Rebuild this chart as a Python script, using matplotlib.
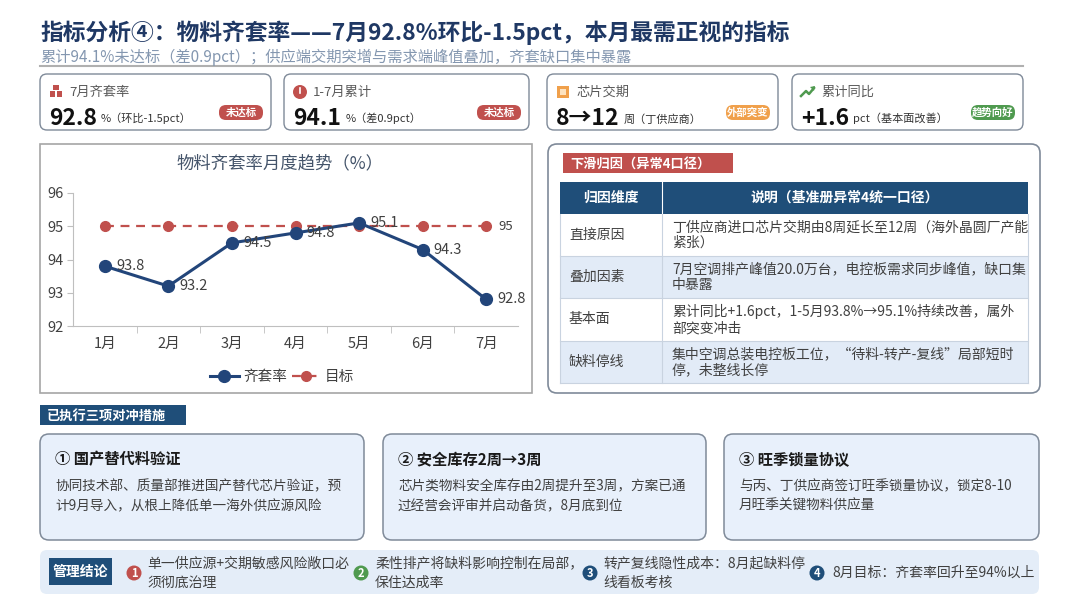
import matplotlib
matplotlib.use("Agg")
import matplotlib.pyplot as plt
from matplotlib.patches import FancyBboxPatch, Rectangle, Circle, Polygon

plt.rcParams['font.family'] = ['Noto Sans CJK SC', 'DejaVu Sans']

# ---------------- data ----------------
title = "指标分析④：物料齐套率——7月92.8%环比-1.5pct，本月最需正视的指标"
subtitle = "累计94.1%未达标（差0.9pct）；供应端交期突增与需求端峰值叠加，齐套缺口集中暴露"

kpi_labels = ["7月齐套率", "1-7月累计", "芯片交期", "累计同比"]
kpi_values = ["92.8", "94.1", "8→12", "+1.6"]
kpi_units = ["%（环比-1.5pct）", "%（差0.9pct）", "周（丁供应商）", "pct（基本面改善）"]
kpi_badges = ["未达标", "未达标", "外部突变", "趋势向好"]

months = ["1月", "2月", "3月", "4月", "5月", "6月", "7月"]
rate = [93.8, 93.2, 94.5, 94.8, 95.1, 94.3, 92.8]
target = [95, 95, 95, 95, 95, 95, 95]
chart_title = "物料齐套率月度趋势（%）"
series_names = ["齐套率", "目标"]

table_tag = "下滑归因（异常4口径）"
table_header = ["归因维度", "说明（基准册异常4统一口径）"]
table_dims = ["直接原因", "叠加因素", "基本面", "缺料停线"]
table_desc = [
    "丁供应商进口芯片交期由8周延长至12周（海外晶圆厂产能\n紧张）",
    "7月空调排产峰值20.0万台，电控板需求同步峰值，缺口集\n中暴露",
    "累计同比+1.6pct，1-5月93.8%→95.1%持续改善，属外\n部突变冲击",
    "集中空调总装电控板工位，“待料-转产-复线”局部短时\n停，未整线长停",
]

measure_tag = "已执行三项对冲措施"
measure_titles = ["① 国产替代料验证", "② 安全库存2周→3周", "③ 旺季锁量协议"]
measure_texts = [
    "协同技术部、质量部推进国产替代芯片验证，预\n计9月导入，从根上降低单一海外供应源风险",
    "芯片类物料安全库存由2周提升至3周，方案已通\n过经营会评审并启动备货，8月底到位",
    "与丙、丁供应商签订旺季锁量协议，锁定8-10\n月旺季关键物料供应量",
]

concl_tag = "管理结论"
concl_nums = ["1", "2", "3", "4"]
concl_texts = [
    "单一供应源+交期敏感风险敞口必\n须彻底治理",
    "柔性排产将缺料影响控制在局部，\n保住达成率",
    "转产复线隐性成本：8月起缺料停\n线看板考核",
    "8月目标：齐套率回升至94%以上",
]

# ---------------- colours ----------------
NAVY = "#1f3864"
NAVY2 = "#1f4e79"
LINE_C = "#22457a"
RED = "#c0504d"
ORANGE = "#f0a04b"
GREEN = "#4f9a4f"
GREY_T = "#404040"
BORDER = "#7f8a99"

W, H = 1080, 608
fig = plt.figure(figsize=(W / 100, H / 100), dpi=100)
bg = fig.add_axes([0, 0, 1, 1])
bg.set_xlim(0, W)
bg.set_ylim(H, 0)
bg.axis("off")


def rbox(x0, y0, x1, y1, fc, ec, lw=1.0, r=6, z=1):
    p = FancyBboxPatch((x0 + r, y0 + r), (x1 - x0) - 2 * r, (y1 - y0) - 2 * r,
                       boxstyle=f"round,pad={r}", fc=fc, ec=ec, lw=lw, zorder=z)
    bg.add_patch(p)
    return p


# ---------------- header ----------------
bg.text(40, 33, title, fontsize=16.4, fontweight="bold", color=NAVY, va="center", ha="left")
bg.text(40, 57, subtitle, fontsize=11, color="#8497b0", va="center", ha="left")
bg.plot([40, 1023], [66, 66], color="#b0b0b0", lw=1.5)

# ---------------- KPI cards ----------------
card_x = [(40, 271), (284, 529), (547, 778), (792, 1023)]
badge_cols = [RED, RED, ORANGE, GREEN]
for i, (x0, x1) in enumerate(card_x):
    rbox(x0, 74, x1, 130, "white", BORDER, lw=1.0, r=7)
    ix, iy = x0 + 16, 92
    if i == 0:
        bg.add_patch(Rectangle((ix - 6, iy - 1), 5, 6, fc=RED, ec="none", zorder=3))
        bg.add_patch(Rectangle((ix + 1, iy - 1), 5, 6, fc=RED, ec="none", zorder=3))
        bg.add_patch(Rectangle((ix - 3, iy - 7), 6, 5, fc=RED, ec="none", zorder=3))
    elif i == 1:
        bg.add_patch(Circle((ix, iy), 7, fc=RED, ec="none", zorder=3))
        bg.plot([ix, ix], [iy - 4, iy + 1], color="white", lw=1.2, zorder=4)
    elif i == 2:
        bg.add_patch(Rectangle((ix - 6, iy - 6), 12, 12, fc=ORANGE, ec="none", zorder=3))
        bg.add_patch(Rectangle((ix - 3, iy - 3), 6, 6, fc="#fde3c0", ec="none", zorder=4))
    else:
        bg.plot([ix - 7, ix - 2, ix + 1, ix + 6], [iy + 4, iy - 1, iy + 2, iy - 4],
                color=GREEN, lw=1.8, zorder=3)
        bg.add_patch(Polygon([[ix + 7, iy - 6], [ix + 2, iy - 5], [ix + 6, iy - 1]],
                             fc=GREEN, ec="none", zorder=3))
    bg.text(x0 + 29, 92, kpi_labels[i], fontsize=9.5, color="#595959", va="center")
    vt = bg.text(x0 + 9, 125, kpi_values[i], fontsize=16.5, fontweight="bold",
                 color="#111111", va="baseline")
    bg.annotate(kpi_units[i], xy=(1, 0.0), xycoords=vt, xytext=(3, 4),
                textcoords="offset points", fontsize=8, color="#333333",
                va="bottom", ha="left")
    bw = 44
    bx1 = x1 - 8
    bx0 = bx1 - bw
    rbox(bx0, 105, bx1, 120, badge_cols[i], "none", r=7, z=3)
    bg.text((bx0 + bx1) / 2, 112.5, kpi_badges[i], fontsize=7.5, fontweight="bold",
            color="white", ha="center", va="center", zorder=4)

# ---------------- chart panel ----------------
bg.add_patch(Rectangle((40, 144), 492, 249, fc="white", ec="#a6a6a6", lw=1.2, zorder=1))
bg.text(280, 163, chart_title, fontsize=12.5, color="#44546a", ha="center", va="center")

ax = fig.add_axes([73 / W, 1 - 326 / H, 445 / W, (326 - 193) / H])
ax.set_facecolor("none")
xs = list(range(len(months)))
ax.plot(xs, target, color=RED, lw=1.6, ls=(0, (4, 3)), marker="o", ms=7,
        mfc=RED, mec=RED, label=series_names[1], zorder=2)
ax.plot(xs, rate, color=LINE_C, lw=2.2, marker="o", ms=8.5, mfc=LINE_C, mec=LINE_C,
        label=series_names[0], zorder=3)
for x, v in zip(xs, rate):
    ax.annotate(f"{v:.1f}", (x, v), xytext=(8, 0), textcoords="offset points",
                fontsize=10.5, color=GREY_T, va="center", ha="left", zorder=4)
ax.annotate(f"{target[-1]}", (xs[-1], target[-1]), xytext=(9, 0), textcoords="offset points",
            fontsize=9.5, color=GREY_T, va="center", ha="left")
ax.set_xlim(-0.5, len(months) - 0.5)
ax.set_ylim(92, 96)
ax.set_yticks([92, 93, 94, 95, 96])
ax.set_xticks(xs)
ax.set_xticklabels(months)
ax.set_xticks([x + 0.5 for x in xs[:-1]], minor=True)
ax.tick_params(axis="x", which="major", length=0, pad=8, labelsize=10.5, labelcolor=GREY_T)
ax.tick_params(axis="x", which="minor", length=5, color="#bfbfbf", direction="out")
ax.tick_params(axis="y", length=4, color="#bfbfbf", labelsize=10.5, labelcolor=GREY_T, pad=3)
for s in ["top", "right"]:
    ax.spines[s].set_visible(False)
for s in ["left", "bottom"]:
    ax.spines[s].set_color("#bfbfbf")
h, l = ax.get_legend_handles_labels()
ax.legend(h[::-1], l[::-1], loc="upper center", bbox_to_anchor=(0.47, -0.23), ncol=2,
          frameon=False, fontsize=10.5, handlelength=2.0, columnspacing=0.3,
          handletextpad=0.3, labelcolor=GREY_T)

# ---------------- right panel: table ----------------
rbox(548, 144, 1040, 393, "white", BORDER, lw=1.2, r=9)
bg.add_patch(Rectangle((563, 153), 170, 20, fc=RED, ec="none", zorder=2))
bg.text(570, 163.5, table_tag, fontsize=9.5, fontweight="bold", color="white",
        va="center", ha="left", zorder=3)

tx0, tx1, tsplit = 560, 1028, 662
bg.add_patch(Rectangle((tx0, 182), tx1 - tx0, 32, fc=NAVY2, ec="none", zorder=2))
bg.text((tx0 + tsplit) / 2, 198, table_header[0], fontsize=10, fontweight="bold",
        color="white", ha="center", va="center", zorder=3)
bg.text((tsplit + tx1) / 2, 198, table_header[1], fontsize=10, fontweight="bold",
        color="white", ha="center", va="center", zorder=3)
bg.plot([tsplit, tsplit], [182, 214], color="white", lw=0.8, zorder=3)
row_edges = [214, 256, 298, 341, 383]
row_fc = ["white", "#e2ebf7", "white", "#e2ebf7"]
for i in range(len(table_dims)):
    ya, yb = row_edges[i], row_edges[i + 1]
    bg.add_patch(Rectangle((tx0, ya), tx1 - tx0, yb - ya, fc=row_fc[i], ec="none", zorder=2))
    bg.plot([tx0, tx1], [yb, yb], color="#c9d3e0", lw=0.8, zorder=3)
    bg.text(569, (ya + yb) / 2, table_dims[i], fontsize=10, color=GREY_T,
            va="center", ha="left", zorder=3)
    bg.text(672, (ya + yb) / 2, table_desc[i], fontsize=10, color=GREY_T,
            va="center", ha="left", linespacing=1.2, zorder=3)
bg.plot([tsplit, tsplit], [214, 383], color="#c9d3e0", lw=0.8, zorder=3)
bg.plot([tx0, tx0], [214, 383], color="#c9d3e0", lw=0.8, zorder=3)
bg.plot([tx1, tx1], [214, 383], color="#c9d3e0", lw=0.8, zorder=3)

# ---------------- measures ----------------
bg.add_patch(Rectangle((40, 405), 146, 20, fc=NAVY2, ec="none", zorder=2))
bg.text(47, 415.5, measure_tag, fontsize=9.5, fontweight="bold", color="white",
        va="center", ha="left", zorder=3)
m_x = [(40, 364), (383, 706), (724, 1039)]
for i, (x0, x1) in enumerate(m_x):
    rbox(x0, 434, x1, 540, "#e8f0fb", BORDER, lw=1.1, r=9)
    bg.text(x0 + 15, 459, measure_titles[i], fontsize=11, fontweight="bold",
            color="#1a1a1a", va="center", ha="left", zorder=3)
    bg.text(x0 + 15, 496, measure_texts[i], fontsize=9.8, color=GREY_T,
            va="center", ha="left", linespacing=1.55, zorder=3)

# ---------------- conclusion bar ----------------
rbox(40, 550, 1039, 594, "#e4edf8", "none", r=7)
bg.add_patch(Rectangle((49, 558), 63, 27, fc=NAVY2, ec="none", zorder=2))
bg.text(80.5, 572, concl_tag, fontsize=10, fontweight="bold", color="white",
        ha="center", va="center", zorder=3)
c_pos = [(134, 147), (361, 375), (590, 603), (817, 832)]
c_cols = [RED, GREEN, NAVY2, NAVY2]
for i, (cx, tx) in enumerate(c_pos):
    bg.add_patch(Circle((cx, 573), 7.5, fc=c_cols[i], ec="none", zorder=3))
    bg.text(cx, 573.5, concl_nums[i], fontsize=8, fontweight="bold", color="white",
            ha="center", va="center", zorder=4)
    bg.text(tx, 573, concl_texts[i], fontsize=10, color=GREY_T, ha="left",
            va="center", linespacing=1.45, zorder=3)

fig.savefig("out.png", dpi=100)
